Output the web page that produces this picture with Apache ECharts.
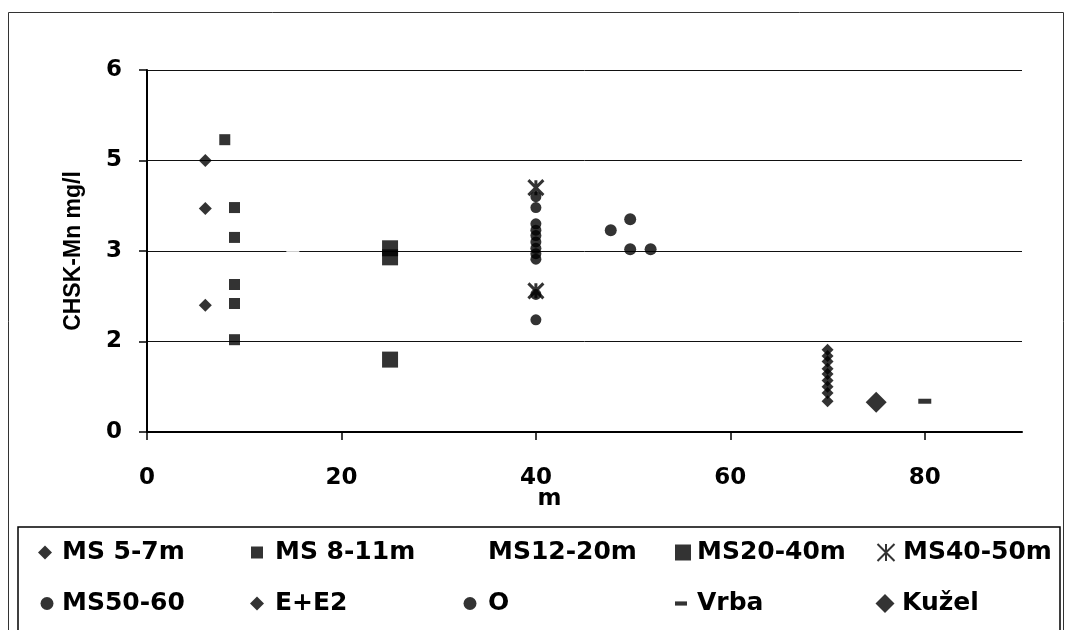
<!DOCTYPE html>
<html>
<head>
<meta charset="utf-8">
<script src="https://cdn.jsdelivr.net/npm/echarts@6/dist/echarts.min.js"></script>
<style>
  html, body { margin: 0; padding: 0; background: #fff; }
  #chart { width: 1068px; height: 630px; }
</style>
</head>
<body>
<div id="chart"></div>
<script>
// Tick labels printed on the vertical axis (one per gridline, bottom to top)
const yTickLabels = ['0', '2', '3', '5', '6'];
const xTickValues = [0, 20, 40, 60, 80];

// Measurements: [depth m, position on the concentration axis]
const ms5_7   = [[6, 3.0], [6, 2.47], [6, 1.40]];
const ms8_11  = [[8, 3.23], [9, 2.48], [9, 2.15], [9, 1.63], [9, 1.42], [9, 1.02]];
const ms12_20 = [[15, 2.0]];
const ms20_40 = [[25, 2.03], [25, 1.93], [25, 0.80]];
const ms40_50 = [[40, 2.70], [40, 1.56]];
const ms50_60 = [[47.7, 2.23], [49.7, 2.35], [49.7, 2.02], [51.8, 2.02]];
const eE2     = [[70, 0.91], [70, 0.84], [70, 0.78], [70, 0.70], [70, 0.64], [70, 0.57], [70, 0.50], [70, 0.43], [70, 0.34]];
const oSite   = [[40, 2.60], [40, 2.48], [40, 2.30], [40, 2.23], [40, 2.17], [40, 2.10], [40, 2.03], [40, 1.97], [40, 1.91], [40, 1.52], [40, 1.24]];
const vrba    = [[80, 0.34]];
const kuzel   = [[75, 0.33]];

const SANS = 'Liberation Sans, Arial, sans-serif';
const WIDE = 'DejaVu Sans, Verdana, sans-serif';
const asterisk = 'path://M0,0L10,10M10,0L0,10M5,0L5,10';
const dash = 'path://M0,0H10V3.5H0Z';

const black = '#000';

function sc(name, data, symbol, size, extra) {
  return Object.assign({
    name: name,
    type: 'scatter',
    data: data,
    symbol: symbol,
    symbolSize: size,
    itemStyle: { color: black },
    z: 3
  }, extra || {});
}

const series = [
  sc('MS 5-7m', ms5_7, 'diamond', 13),
  sc('MS 8-11m', ms8_11, 'rect', 11),
  sc('MS12-20m', ms12_20, 'rect', 13, { itemStyle: { color: '#fff' } }),
  sc('MS20-40m', ms20_40, 'rect', 16),
  sc('MS40-50m', ms40_50, asterisk, 15, { itemStyle: { color: black, borderColor: black, borderWidth: 3 } }),
  sc('MS50-60', ms50_60, 'circle', 12),
  sc('E+E2', eE2, 'diamond', 12),
  sc('O', oSite, 'circle', 11),
  sc('Vrba', vrba, dash, [13, 5]),
  sc('Kužel', kuzel, 'diamond', 21)
];

// Legend laid out as a 5 x 2 table inside the framed box:
// x = icon centre, tx = where the text starts, w/h = icon box
const legendCells = [
  { name: 'MS 5-7m',  x: 45,  tx: 62,  row: 0, w: 14, h: 14 },
  { name: 'MS 8-11m', x: 257, tx: 275, row: 0, w: 12, h: 12 },
  { name: 'MS12-20m', x: 470, tx: 488, row: 0, w: 12, h: 12 },
  { name: 'MS20-40m', x: 683, tx: 697, row: 0, w: 16, h: 16 },
  { name: 'MS40-50m', x: 885, tx: 902, row: 0, w: 17, h: 17 },
  { name: 'MS50-60',  x: 47,  tx: 62,  row: 1, w: 13, h: 13 },
  { name: 'E+E2',     x: 257, tx: 275, row: 1, w: 14, h: 14 },
  { name: 'O',        x: 470, tx: 488, row: 1, w: 13, h: 13 },
  { name: 'Vrba',     x: 681, tx: 697, row: 1, w: 12, h: 5, icon: dash },
  { name: 'Kužel',    x: 885, tx: 902, row: 1, w: 19, h: 19 }
];
const rowCenters = [552, 603];

const legends = legendCells.map(c => ({
  data: [c.icon ? { name: c.name, icon: c.icon } : c.name],
  left: c.x - c.w / 2,
  top: rowCenters[c.row] - 12,
  orient: 'horizontal',
  padding: 0,
  itemWidth: c.w,
  itemHeight: c.h,
  selectedMode: false,
  textStyle: {
    fontFamily: WIDE, fontSize: 25, fontWeight: 'bold', color: black,
    padding: [0, 0, 0, Math.max(0, c.tx - (c.x + c.w / 2) - 5)]
  }
}));

const chart = echarts.init(document.getElementById('chart'), null, { renderer: 'canvas' });

chart.setOption({
  backgroundColor: '#fff',
  animation: false,
  grid: { left: 147, top: 70, right: 46, bottom: 198, containLabel: false },
  legend: legends,
  xAxis: {
    type: 'value',
    min: 0,
    max: 90,
    interval: 20,
    name: 'm',
    nameLocation: 'middle',
    nameGap: 56,
    nameMoveOverlap: false,
    nameTextStyle: { fontFamily: WIDE, fontSize: 23, fontWeight: 'bold', color: black, padding: [0, 70, 0, 0] },
    axisLine: { show: true, onZero: false, lineStyle: { color: black, width: 2 } },
    axisTick: { show: true, inside: false, length: 8, customValues: xTickValues, lineStyle: { color: black, width: 1.5 } },
    axisLabel: { customValues: xTickValues, margin: 35, fontFamily: WIDE, fontSize: 23, fontWeight: 'bold', color: black },
    splitLine: { show: false }
  },
  yAxis: {
    type: 'value',
    min: 0,
    max: 4,
    interval: 1,
    name: 'CHSK-Mn mg/l',
    nameLocation: 'middle',
    nameGap: 62,
    nameMoveOverlap: false,
    nameTextStyle: { fontFamily: SANS, fontSize: 23, fontWeight: 'bold', color: black },
    axisLine: { show: true, onZero: false, lineStyle: { color: black, width: 2 } },
    axisTick: { show: true, inside: false, length: 8, lineStyle: { color: black, width: 1.5 } },
    axisLabel: {
      margin: 25,
      fontFamily: WIDE, fontSize: 23, fontWeight: 'bold', color: black,
      formatter: v => yTickLabels[Math.round(v)]
    },
    splitLine: { show: true, lineStyle: { color: '#111', width: 1 } }
  },
  graphic: [
    { type: 'rect', shape: { x: 8.5, y: 12.5, width: 1055, height: 640 }, style: { fill: 'none', stroke: '#333', lineWidth: 1 }, silent: true, z: -1 },
    { type: 'rect', shape: { x: 18, y: 527, width: 1042, height: 120 }, style: { fill: 'none', stroke: black, lineWidth: 1.5 }, silent: true, z: -1 }
  ],
  series: series
});
</script>
</body>
</html>
